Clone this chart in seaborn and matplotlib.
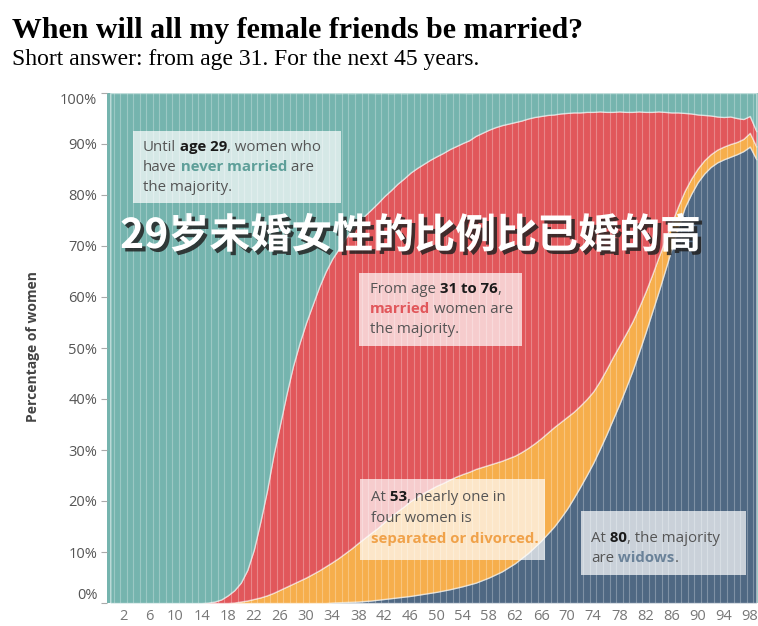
import pandas as pd
import matplotlib
matplotlib.use('Agg')
import matplotlib.pyplot as plt
import matplotlib.patheffects as pe
from matplotlib.patches import Rectangle
import seaborn as sns

# Share of women (%) by age and marital status
ages = list(range(100))

never_married = [100.0] * 15 + [
    99.9, 99.7, 99.3, 98.5, 97.5, 96.0, 93.5, 89.5, 84.0, 78.0,
    71.0, 65.0, 59.0, 53.5, 49.0, 45.0, 41.5, 38.0, 35.0, 32.5,
    30.5, 28.5, 26.8, 25.3, 24.0, 22.8, 21.5, 20.2, 19.0, 17.8,
    16.7, 15.6, 14.7, 13.9, 13.1, 12.4, 11.7, 11.0, 10.4, 9.8,
    9.2, 8.4, 7.8, 7.2, 6.7, 6.3, 6.0, 5.7, 5.4, 5.0,
    4.7, 4.5, 4.3, 4.2, 4.0, 3.9, 3.8, 3.8, 3.7, 3.7,
    3.6, 3.7, 3.7, 3.6, 3.7, 3.7, 3.6, 3.7, 3.7, 3.6,
    3.7, 3.8, 3.8, 3.9, 4.0, 4.2, 4.3, 4.4, 4.6, 4.7,
    4.6, 4.9, 5.1, 4.5, 7.5]

married = [0.0] * 15 + [
    0.1, 0.3, 0.7, 1.5, 2.4, 3.7, 6.0, 9.7, 14.9, 20.5,
    27.0, 32.4, 37.8, 42.7, 46.6, 50.0, 52.8, 55.6, 57.8, 59.5,
    60.6, 61.7, 62.4, 62.9, 63.2, 63.4, 63.7, 63.9, 64.0, 64.2,
    64.3, 64.4, 64.5, 64.5, 64.6, 64.6, 64.7, 64.8, 64.8, 64.9,
    65.0, 65.3, 65.5, 65.7, 65.8, 65.8, 65.6, 65.4, 65.0, 64.6,
    64.0, 63.2, 62.3, 61.3, 60.5, 59.6, 58.7, 57.5, 56.3, 54.8,
    52.9, 50.5, 48.1, 45.9, 43.5, 41.1, 38.4, 35.3, 32.0, 28.6,
    25.1, 21.7, 18.4, 15.3, 12.8, 10.6, 8.9, 7.6, 6.5, 5.8,
    5.4, 4.7, 3.9, 3.3, 3.0]

divorced = [0.0] * 19 + [
    0.1, 0.3, 0.5, 0.8, 1.1, 1.5, 2.0, 2.6, 3.2, 3.8,
    4.4, 5.0, 5.7, 6.4, 7.2, 7.9, 8.7, 9.6, 10.5, 11.5,
    12.4, 13.3, 14.1, 15.1, 16.0, 16.9, 17.7, 18.6, 19.2, 19.8,
    20.3, 20.8, 21.1, 21.5, 21.8, 22.0, 22.1, 22.3, 22.2, 22.1,
    21.9, 21.7, 21.4, 21.1, 20.8, 20.6, 20.3, 20.1, 19.8, 19.5,
    18.8, 18.0, 16.9, 15.9, 14.9, 14.0, 13.3, 12.8, 12.2, 11.5,
    10.6, 9.7, 8.8, 8.0, 7.3, 6.8, 6.0, 5.0, 4.3, 3.3,
    3.0, 2.7, 2.6, 2.5, 2.5, 2.5, 2.5, 2.4, 2.4, 2.7,
    2.5]

widowed = [0.0] * 34 + [
    0.1, 0.15, 0.2, 0.25, 0.3, 0.4, 0.5, 0.65, 0.8, 0.95,
    1.1, 1.25, 1.4, 1.6, 1.8, 2.0, 2.2, 2.45, 2.7, 3.0,
    3.3, 3.65, 4.0, 4.5, 5.0, 5.6, 6.2, 7.0, 7.8, 8.8,
    9.8, 11.0, 12.2, 13.6, 15.0, 16.7, 18.5, 20.6, 22.8, 25.1,
    27.5, 30.2, 33.0, 36.0, 39.0, 42.2, 45.5, 49.2, 53.0, 57.0,
    61.0, 65.2, 69.5, 73.5, 77.5, 80.2, 82.5, 84.2, 85.5, 86.4,
    87.0, 87.5, 88.0, 88.6, 89.5, 87.0]

statuses = ['Never married', 'Married', 'Separated or divorced', 'Widowed']
palette = {'Never married': '#75B4AE', 'Married': '#E1575B',
           'Separated or divorced': '#F6AE4C', 'Widowed': '#4F6883'}

df = pd.concat([
    pd.DataFrame({'age': ages, 'status': s, 'pct': v})
    for s, v in zip(statuses, [never_married, married, divorced, widowed])
], ignore_index=True)

sns.set_theme(style='white')
plt.rcParams['font.family'] = ['Open Sans', 'DejaVu Sans']

W, H = 758, 626
fig = plt.figure(figsize=(W / 100, H / 100), dpi=100)
ax = fig.add_axes([107 / W, 1 - 603 / H, (W - 107) / W, (603 - 93) / H])
ax.set_facecolor(palette['Never married'])

sns.histplot(data=df, x='age', weights='pct', hue='status', hue_order=statuses,
             palette=palette, multiple='stack', discrete=True, element='poly',
             alpha=1, edgecolor=(1, 1, 1, 0.55), linewidth=1.0,
             legend=False, ax=ax)

# thin light separators between the age columns
ax.vlines([a + 0.5 for a in ages], 0, 100, color='white', alpha=0.28,
          linewidth=0.8, zorder=2)

ax.set_xlim(-0.5, 99.25)
ax.set_ylim(0, 100)
ax.set_xticks(range(2, 99, 4))
ax.set_yticks(range(0, 101, 10))
ax.set_yticklabels([f'{v}%' for v in range(0, 101, 10)])
ax.set_xlabel('')
ax.set_ylabel('')
for s in ax.spines.values():
    s.set_visible(False)
ax.tick_params(axis='y', left=True, length=4, width=0.8, color='#aaaaaa',
               pad=3, labelcolor='#555555', labelsize=10.5)
ax.tick_params(axis='x', bottom=False, length=0, pad=4,
               labelcolor='#777777', labelsize=10.5)
ylabs = ax.get_yticklabels()
ylabs[0].set_va('bottom')
ylabs[-1].set_va('top')

fig.text(33 / W, 1 - 347 / H, 'Percentage of women', rotation=90,
         ha='center', va='center', fontsize=10, fontweight='bold', color='#444444')

# title and subtitle
fig.text(12 / W, 1 - 30 / H, 'When will all my female friends be married?',
         family='Liberation Serif', fontweight='bold', fontsize=21.5,
         va='center', ha='left', color='black')
fig.text(12 / W, 1 - 59 / H, 'Short answer: from age 31. For the next 45 years.',
         family='Liberation Serif', fontsize=17, va='center', ha='left',
         color='black')

renderer = fig.canvas.get_renderer()


def box(x0, y0, x1, y1):
    ax.add_patch(Rectangle((x0 / W, 1 - y1 / H), (x1 - x0) / W, (y1 - y0) / H,
                           transform=fig.transFigure, facecolor='white',
                           alpha=0.7, edgecolor='none', zorder=5, clip_on=False))


def rich_line(px, py, segments, size=10.8):
    # segments share one baseline; each starts where the previous one ends
    x = px / W
    for txt, weight, color in segments:
        t = fig.text(x, 1 - py / H, txt, fontsize=size, fontweight=weight,
                     color=color, va='baseline', ha='left', zorder=6)
        x = fig.transFigure.inverted().transform(
            (t.get_window_extent(renderer).x1, 0))[0]


grey, dark = '#555555', '#1a1a1a'

box(133, 131, 341, 203)
rich_line(143, 151, [('Until', 'normal', grey), (' age 29', 'bold', dark),
                     (', women who', 'normal', grey)])
rich_line(143, 171, [('have', 'normal', grey), (' never married', 'bold', '#5E9F99'),
                     (' are', 'normal', grey)])
rich_line(143, 191, [('the majority.', 'normal', grey)])

box(359, 273, 522, 346)
rich_line(370, 293, [('From age', 'normal', grey), (' 31 to 76', 'bold', dark),
                     (',', 'normal', grey)])
rich_line(370, 313, [('married', 'bold', '#E1575B'), (' women are', 'normal', grey)])
rich_line(370, 333, [('the majority.', 'normal', grey)])

box(360, 479, 545, 560)
rich_line(371, 501, [('At', 'normal', grey), (' 53', 'bold', dark),
                     (', nearly one in', 'normal', grey)])
rich_line(371, 522, [('four women is', 'normal', grey)])
rich_line(371, 543, [('separated or divorced.', 'bold', '#F0A24A')])

box(581, 511, 746, 575)
rich_line(591, 542, [('At', 'normal', grey), (' 80', 'bold', dark),
                     (', the majority', 'normal', grey)])
rich_line(591, 562, [('are', 'normal', grey), (' widows', 'bold', '#6A8299'),
                     ('.', 'normal', grey)])

fig.text(120 / W, 1 - 236 / H, '29岁未婚女性的比例比已婚的高',
         family=['Noto Sans CJK SC', 'DejaVu Sans'], fontweight='bold',
         fontsize=29.5, color='white', va='center', ha='left', zorder=7,
         path_effects=[pe.withSimplePatchShadow(offset=(2.5, -2.5),
                                                shadow_rgbFace='#222222',
                                                alpha=0.85)])

fig.savefig('out.png', dpi=100)
